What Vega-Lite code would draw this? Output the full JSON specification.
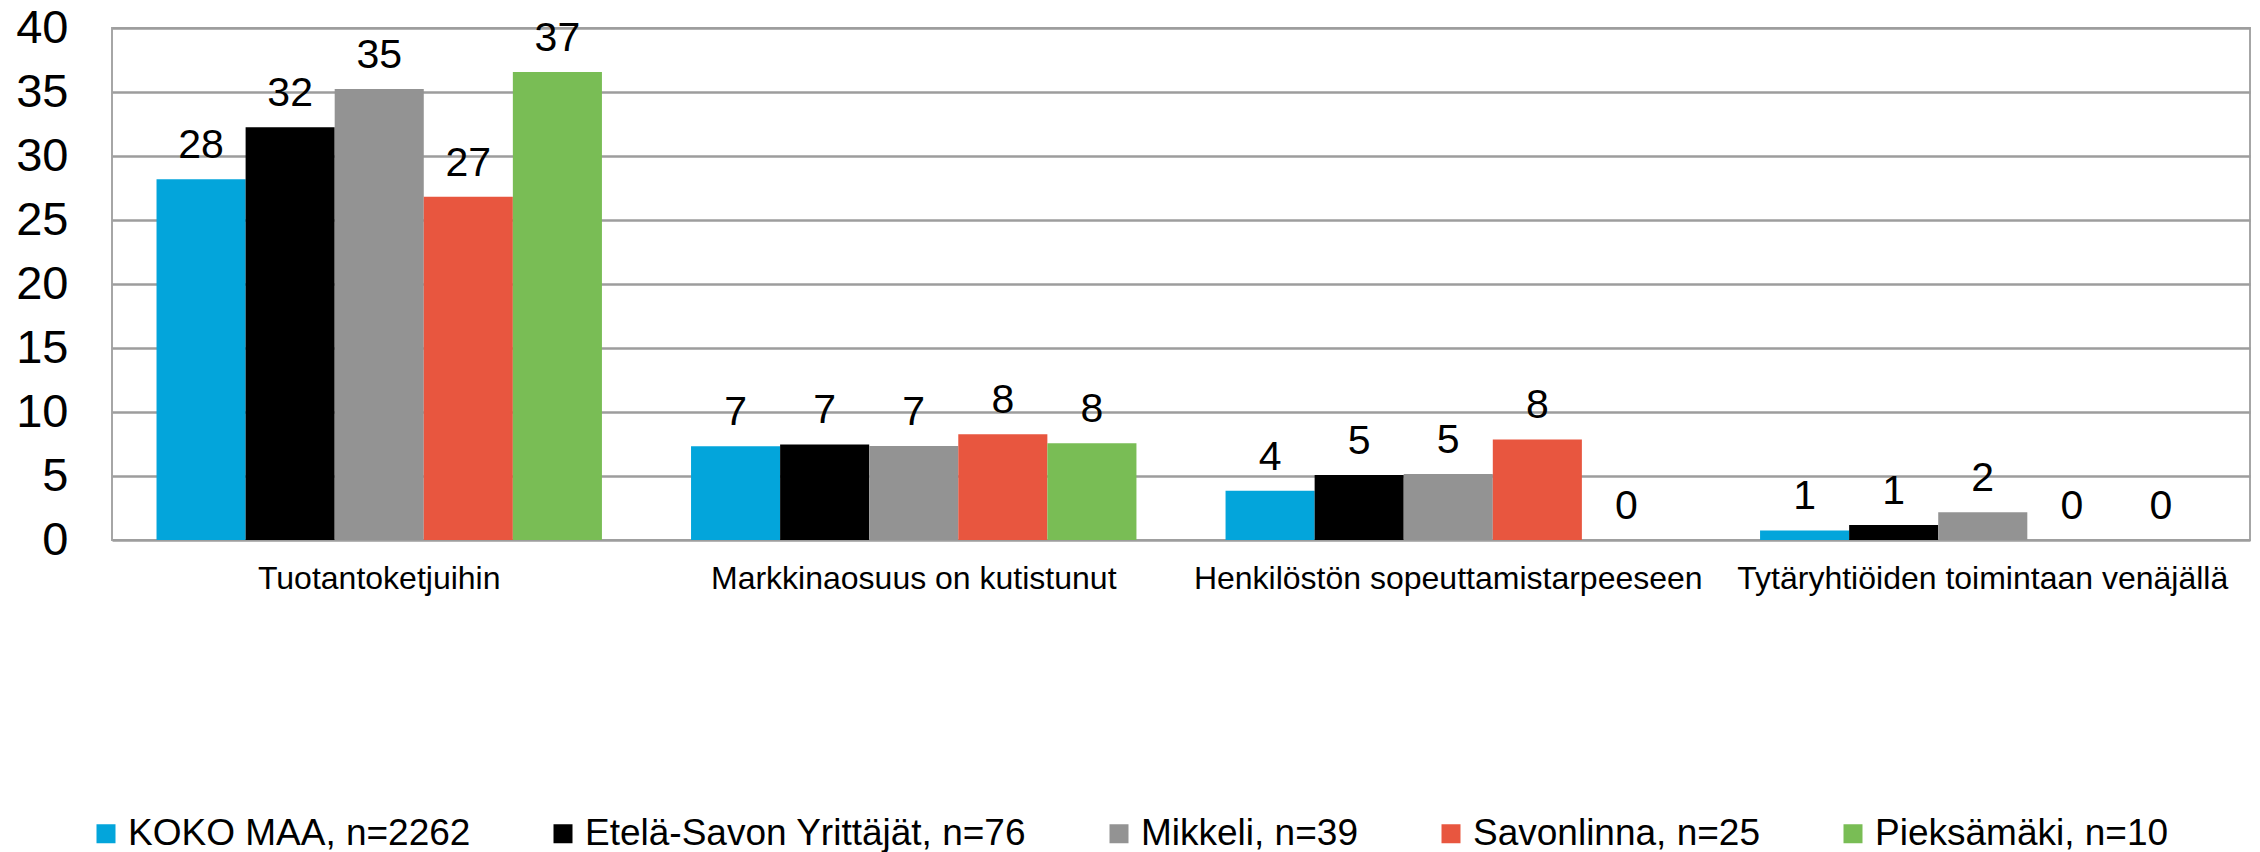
{
  "$schema": "https://vega.github.io/schema/vega-lite/v6.json",
  "width": 2138,
  "height": 512,
  "autosize": {"type": "none"},
  "padding": {"left": 112, "top": 28, "right": 10, "bottom": 312},
  "background": "white",
  "data": {
    "values": [
      {"kategoria": "Tuotantoketjuihin", "ryhma": "KOKO MAA, n=2262", "arvo": 28.18},
      {"kategoria": "Tuotantoketjuihin", "ryhma": "Etelä-Savon Yrittäjät, n=76", "arvo": 32.24},
      {"kategoria": "Tuotantoketjuihin", "ryhma": "Mikkeli, n=39", "arvo": 35.23},
      {"kategoria": "Tuotantoketjuihin", "ryhma": "Savonlinna, n=25", "arvo": 26.82},
      {"kategoria": "Tuotantoketjuihin", "ryhma": "Pieksämäki, n=10", "arvo": 36.56},
      {"kategoria": "Markkinaosuus on kutistunut", "ryhma": "KOKO MAA, n=2262", "arvo": 7.32},
      {"kategoria": "Markkinaosuus on kutistunut", "ryhma": "Etelä-Savon Yrittäjät, n=76", "arvo": 7.47},
      {"kategoria": "Markkinaosuus on kutistunut", "ryhma": "Mikkeli, n=39", "arvo": 7.34},
      {"kategoria": "Markkinaosuus on kutistunut", "ryhma": "Savonlinna, n=25", "arvo": 8.26},
      {"kategoria": "Markkinaosuus on kutistunut", "ryhma": "Pieksämäki, n=10", "arvo": 7.55},
      {"kategoria": "Henkilöstön sopeuttamistarpeeseen", "ryhma": "KOKO MAA, n=2262", "arvo": 3.85},
      {"kategoria": "Henkilöstön sopeuttamistarpeeseen", "ryhma": "Etelä-Savon Yrittäjät, n=76", "arvo": 5.08},
      {"kategoria": "Henkilöstön sopeuttamistarpeeseen", "ryhma": "Mikkeli, n=39", "arvo": 5.16},
      {"kategoria": "Henkilöstön sopeuttamistarpeeseen", "ryhma": "Savonlinna, n=25", "arvo": 7.86},
      {"kategoria": "Henkilöstön sopeuttamistarpeeseen", "ryhma": "Pieksämäki, n=10", "arvo": 0},
      {"kategoria": "Tytäryhtiöiden toimintaan venäjällä", "ryhma": "KOKO MAA, n=2262", "arvo": 0.75},
      {"kategoria": "Tytäryhtiöiden toimintaan venäjällä", "ryhma": "Etelä-Savon Yrittäjät, n=76", "arvo": 1.17},
      {"kategoria": "Tytäryhtiöiden toimintaan venäjällä", "ryhma": "Mikkeli, n=39", "arvo": 2.16},
      {"kategoria": "Tytäryhtiöiden toimintaan venäjällä", "ryhma": "Savonlinna, n=25", "arvo": 0},
      {"kategoria": "Tytäryhtiöiden toimintaan venäjällä", "ryhma": "Pieksämäki, n=10", "arvo": 0}
    ]
  },
  "encoding": {
    "x": {
      "field": "kategoria",
      "type": "nominal",
      "sort": ["Tuotantoketjuihin", "Markkinaosuus on kutistunut", "Henkilöstön sopeuttamistarpeeseen", "Tytäryhtiöiden toimintaan venäjällä"],
      "scale": {"paddingInner": 0.1667, "paddingOuter": 0.0833},
      "title": null,
      "axis": {
        "labelAngle": 0,
        "ticks": false,
        "domain": false,
        "grid": false,
        "labelFontSize": 32,
        "labelFont": "Liberation Sans",
        "labelColor": "black",
        "labelPadding": 23,
        "labelLimit": 1000
      }
    },
    "xOffset": {
      "field": "ryhma",
      "type": "nominal",
      "sort": ["KOKO MAA, n=2262", "Etelä-Savon Yrittäjät, n=76", "Mikkeli, n=39", "Savonlinna, n=25", "Pieksämäki, n=10"],
      "scale": {"paddingInner": 0, "paddingOuter": 0}
    },
    "y": {
      "field": "arvo",
      "type": "quantitative",
      "scale": {"domain": [0, 40], "nice": false},
      "title": null,
      "axis": {
        "values": [0, 5, 10, 15, 20, 25, 30, 35, 40],
        "ticks": false,
        "domain": false,
        "grid": true,
        "gridColor": "#9d9d9d",
        "gridWidth": 2.5,
        "labelFontSize": 47,
        "labelFont": "Liberation Sans",
        "labelColor": "black",
        "labelPadding": 44
      }
    }
  },
  "layer": [
    {
      "mark": {"type": "bar"},
      "encoding": {
        "color": {
          "field": "ryhma",
          "type": "nominal",
          "sort": ["KOKO MAA, n=2262", "Etelä-Savon Yrittäjät, n=76", "Mikkeli, n=39", "Savonlinna, n=25", "Pieksämäki, n=10"],
          "scale": {
            "domain": ["KOKO MAA, n=2262", "Etelä-Savon Yrittäjät, n=76", "Mikkeli, n=39", "Savonlinna, n=25", "Pieksämäki, n=10"],
            "range": ["#03A5DB", "#000000", "#939393", "#E8563F", "#79BD55"]
          },
          "legend": {
            "orient": "none",
            "legendX": -24.5,
            "legendY": 787,
            "direction": "horizontal",
            "columns": 5,
            "title": null,
            "symbolType": "square",
            "symbolSize": 361,
            "symbolStrokeWidth": 0,
            "labelFontSize": 37,
            "labelFont": "Liberation Sans",
            "labelColor": "black",
            "labelLimit": 800,
            "labelOffset": 3.5,
            "columnPadding": 74,
            "padding": 0
          }
        }
      }
    },
    {
      "mark": {"type": "text", "dy": -21, "baseline": "alphabetic", "align": "center", "fontSize": 41, "font": "Liberation Sans", "color": "black"},
      "encoding": {
        "text": {"field": "arvo", "type": "quantitative", "format": ".0f"}
      }
    }
  ],
  "config": {
    "view": {"stroke": "#a6a6a6", "strokeWidth": 2},
    "font": "Liberation Sans"
  }
}
